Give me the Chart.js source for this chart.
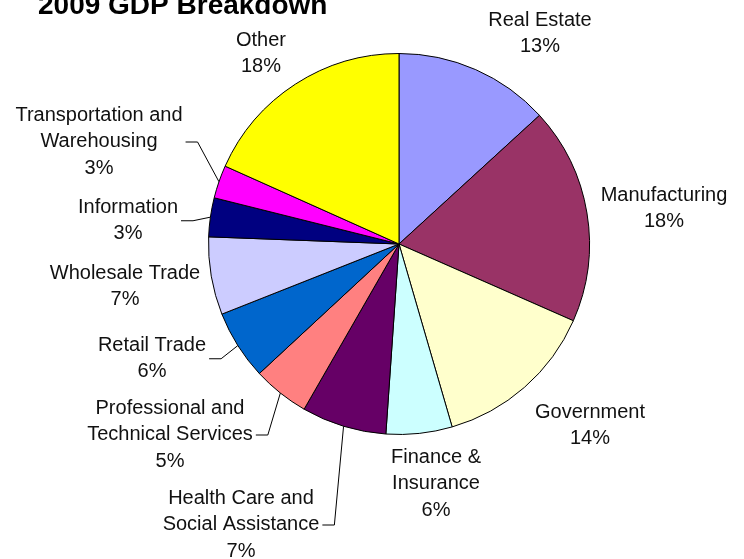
<!DOCTYPE html>
<html>
<head>
<meta charset="utf-8">
<script src="https://cdn.jsdelivr.net/npm/chart.js@4/dist/chart.umd.min.js"></script>
<style>
  html, body { margin: 0; padding: 0; background: #fff; }
  #wrap { width: 744px; height: 559px; position: relative; }
</style>
</head>
<body>
<div id="wrap"><canvas id="pie" width="744" height="559"></canvas></div>
<script>
// dane wykresu (udział w PKB, %)
const categories = [
  "Real Estate", "Manufacturing", "Government", "Finance &\nInsurance",
  "Health Care and\nSocial Assistance", "Professional and\nTechnical Services",
  "Retail Trade", "Wholesale Trade", "Information",
  "Transportation and\nWarehousing", "Other"
];
const values = [13.2, 18.4, 13.9, 5.6, 7.2, 4.8, 5.9, 6.6, 3.3, 2.8, 18.3];
const colors = [
  "#9999FF", "#993366", "#FFFFCC", "#CCFFFF", "#660066", "#FF8080",
  "#0066CC", "#CCCCFF", "#000080", "#FF00FF", "#FFFF00"
];
const title = "2009 GDP Breakdown";

// rozmieszczenie etykiet (środek tekstu, y pierwszej linii) + czy linia odniesienia
const labelLayout = [
  { x: 540, y: 20, leader: false },
  { x: 664, y: 195, leader: false },
  { x: 590, y: 412, leader: false },
  { x: 436, y: 457, leader: false },
  { x: 241, y: 498, leader: true },
  { x: 170, y: 408, leader: true },
  { x: 152, y: 345, leader: true },
  { x: 125, y: 273, leader: false },
  { x: 128, y: 207, leader: true },
  { x: 99, y: 115, leader: true },
  { x: 261, y: 40, leader: false }
];

const LINE_H = 26.5;
const FONT = "20px 'Liberation Sans', Arial, sans-serif";

// ────────────────────────────────────────────────
// Etykiety i tytuł – własny plugin
// ────────────────────────────────────────────────
const labelPlugin = {
  id: "excelLabels",
  afterDraw(chart) {
    const ctx = chart.ctx;
    const meta = chart.getDatasetMeta(0);
    const data = chart.data.datasets[0].data;
    const total = data.reduce((a, b) => a + b, 0);

    ctx.save();
    ctx.font = FONT;
    ctx.fillStyle = "#111";
    ctx.strokeStyle = "#000";
    ctx.lineWidth = 1;
    ctx.textAlign = "center";
    ctx.textBaseline = "middle";

    meta.data.forEach((arc, i) => {
      const lay = labelLayout[i];
      const lines = chart.data.labels[i].split("\n");
      lines.push(Math.round(data[i] / total * 100) + "%");

      let maxW = 0;
      lines.forEach((t, j) => {
        ctx.fillText(t, lay.x, lay.y + j * LINE_H);
        maxW = Math.max(maxW, ctx.measureText(t).width);
      });

      if (lay.leader) {
        const p = arc.getProps(["x", "y", "startAngle", "endAngle", "outerRadius"], true);
        const mid = (p.startAngle + p.endAngle) / 2;
        const ex = p.x + Math.cos(mid) * p.outerRadius;
        const ey = p.y + Math.sin(mid) * p.outerRadius;
        const ly = lay.y + (lines.length - 1) * LINE_H / 2;
        const lx = lay.x + maxW / 2 + 3;
        ctx.beginPath();
        ctx.moveTo(lx, ly + 0.5);
        ctx.lineTo(lx + 12, ly + 0.5);
        ctx.lineTo(ex, ey);
        ctx.stroke();
      }
    });

    // tytuł (ucięty u góry jak w oryginale)
    ctx.font = "bold 28px 'Liberation Sans', Arial, sans-serif";
    ctx.fillStyle = "#000";
    ctx.textAlign = "left";
    ctx.textBaseline = "alphabetic";
    ctx.fillText(title, 38, 14);
    ctx.restore();
  }
};

new Chart(document.getElementById("pie"), {
  type: "pie",
  data: {
    labels: categories,
    datasets: [{
      data: values,
      backgroundColor: colors,
      borderColor: "#000",
      borderWidth: 1
    }]
  },
  options: {
    responsive: false,
    animation: false,
    devicePixelRatio: 1,
    layout: { padding: { top: 53, bottom: 124, left: 54, right: 0 } },
    plugins: {
      legend: { display: false },
      tooltip: { enabled: false },
      title: { display: false }
    }
  },
  plugins: [labelPlugin]
});
</script>
</body>
</html>
